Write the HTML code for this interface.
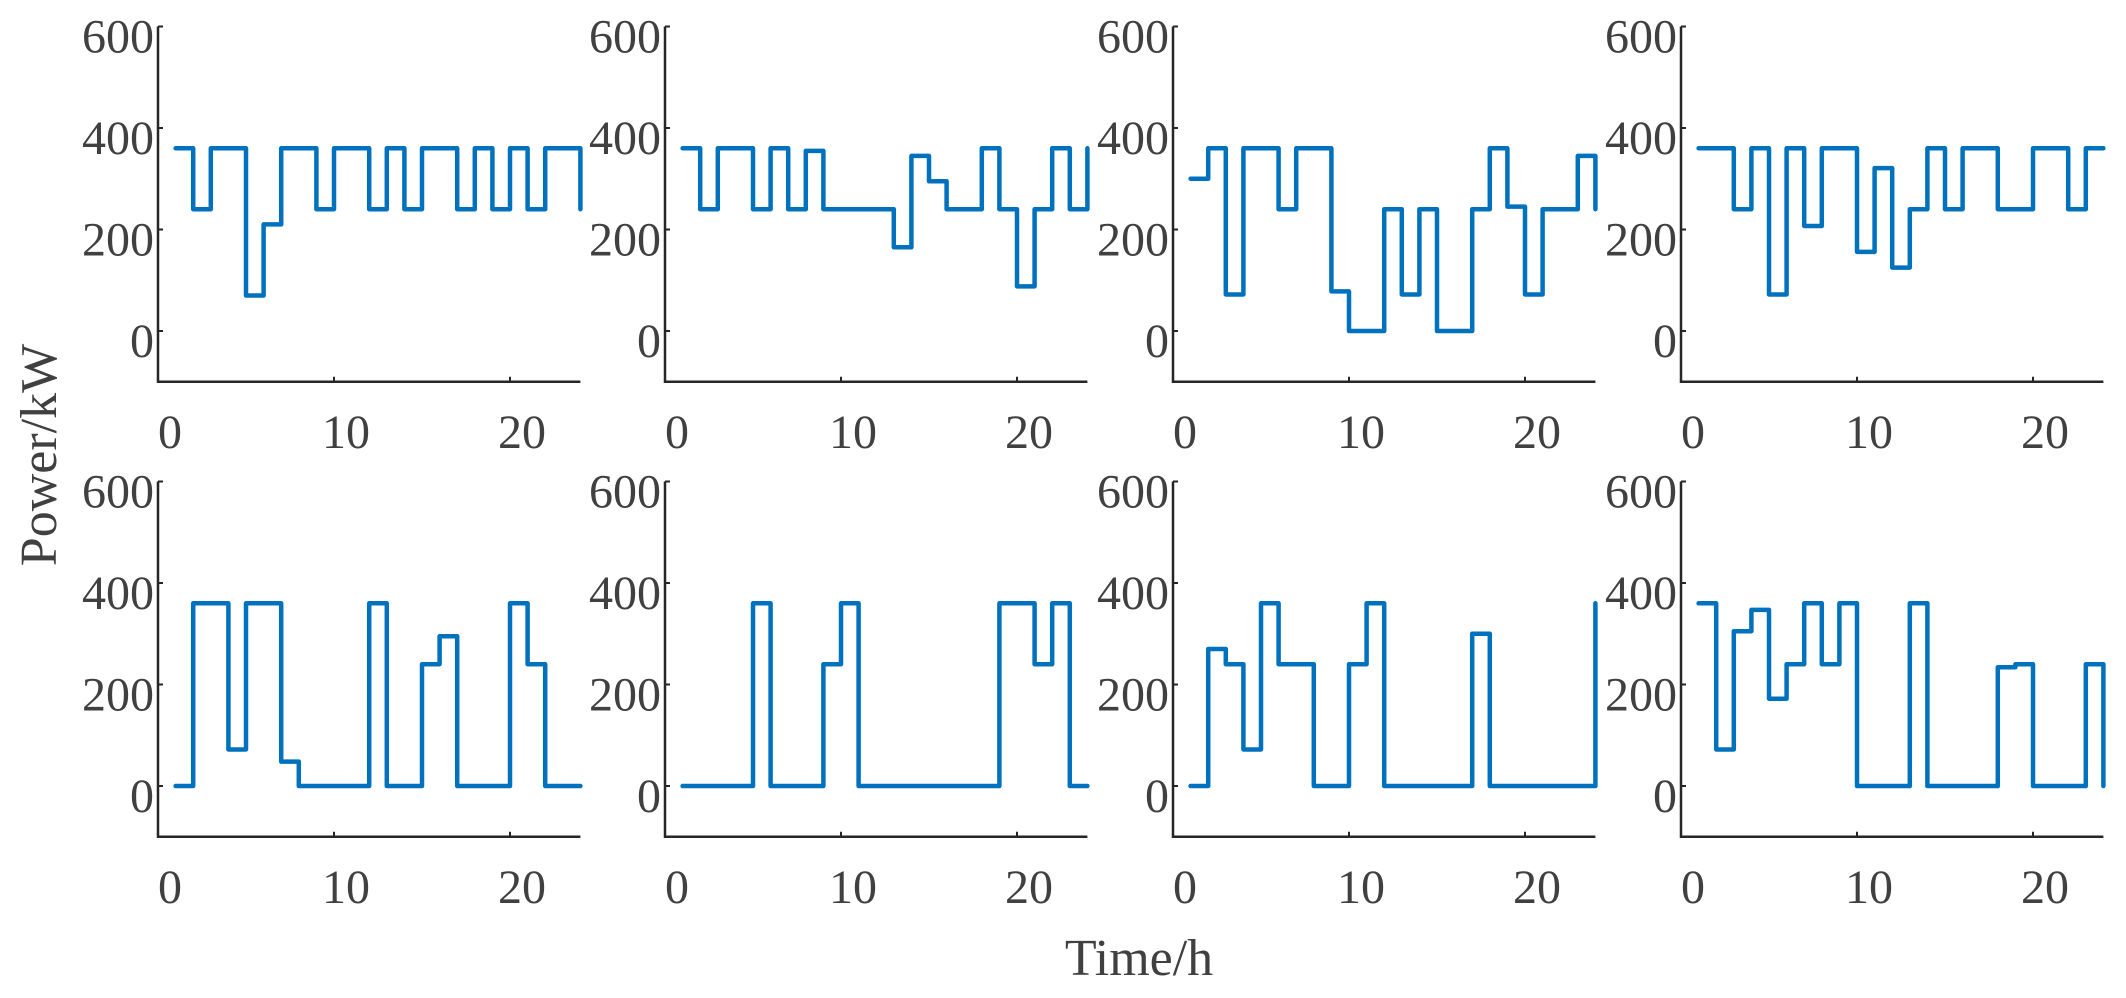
<!DOCTYPE html>
<html><head><meta charset="utf-8"><style>
html,body{margin:0;padding:0;background:#fff;width:2126px;height:998px;overflow:hidden}
svg text{font-family:"Liberation Serif",serif;fill:#404040}
</style></head><body>
<svg id="s" width="2126" height="998" xmlns="http://www.w3.org/2000/svg">
<text x="1139" y="975" font-size="52" text-anchor="middle">Time/h</text>
<text transform="translate(56,455) rotate(-90)" font-size="52" text-anchor="middle">Power/kW</text>
</svg>
<script>
(function(){
var data=[
[360,240,360,360,70,210,360,360,240,360,360,240,360,240,360,360,240,360,240,360,240,360,360,240],
[360,240,360,360,240,360,240,355,240,240,240,240,165,345,295,240,240,360,240,88,240,360,240,360],
[300,360,72,360,360,240,360,360,78,0,0,240,72,240,0,0,240,360,245,72,240,240,345,240],
[360,360,240,360,72,360,207,360,360,156,321,125,240,360,240,360,360,240,240,360,360,240,360,360],
[0,360,360,72,360,360,48,0,0,0,0,360,0,0,240,295,0,0,0,360,240,0,0,0],
[0,0,0,0,360,0,0,0,240,360,0,0,0,0,0,0,0,0,360,360,240,360,0,0],
[0,270,240,72,360,240,240,0,0,240,360,0,0,0,0,0,300,0,0,0,0,0,0,360],
[360,72,305,347,172,240,360,240,360,0,0,0,360,0,0,0,0,234,240,0,0,0,240,0]];
var lefts=[158,665,1173,1681], zeros=[331,786], k=0.5075, hx=17.6;
var s=document.getElementById('s'), out='';
for(var p=0;p<8;p++){
 var L=lefts[p%4], Z=zeros[Math.floor(p/4)];
 var yt=Z-600*k, yb=Z+100*k, R=L+24*hx;
 out+='<path d="M'+L+' '+yt+' L'+L+' '+yb+' L'+R+' '+yb+'" fill="none" stroke="#262626" stroke-width="2.5"/>';
 [0,200,400,600].forEach(function(v){var y=Z-v*k;
  out+='<line x1="'+L+'" y1="'+y+'" x2="'+(L+5)+'" y2="'+y+'" stroke="#262626" stroke-width="2"/>';
  out+='<text x="'+(L-4)+'" y="'+(y+26)+'" font-size="48" text-anchor="end">'+v+'</text>';});
 [0,10,20].forEach(function(h){var x=L+h*hx;
  if(h>0) out+='<line x1="'+x+'" y1="'+yb+'" x2="'+x+'" y2="'+(yb-5)+'" stroke="#262626" stroke-width="2"/>';
  out+='<text x="'+(x+12)+'" y="'+(yb+66)+'" font-size="48" text-anchor="middle">'+h+'</text>';});
 var d=data[p], pts='';
 for(var i=0;i<23;i++){var y=Z-d[i]*k; pts+=(L+(i+1)*hx)+','+y+' '+(L+(i+2)*hx)+','+y+' ';}
 pts+=(L+24*hx)+','+(Z-d[23]*k);
 out+='<polyline points="'+pts+'" fill="none" stroke="#0072BD" stroke-width="4.5" stroke-linejoin="round" stroke-linecap="round"/>';
}
s.insertAdjacentHTML('beforeend',out);
})();
</script>
</body></html>
